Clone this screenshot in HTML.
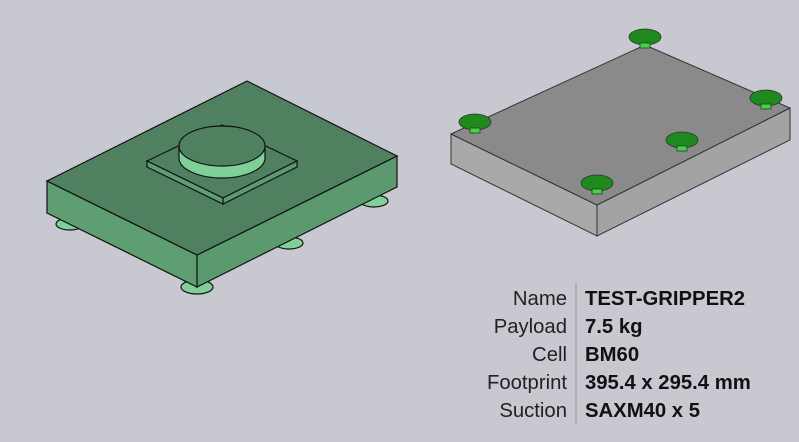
<!DOCTYPE html>
<html><head><style>
body{margin:0;width:799px;height:442px;background:#c8c8d0;overflow:hidden;font-family:"Liberation Sans",sans-serif}
</style></head><body>
<svg width="799" height="442" style="position:absolute;left:0;top:0">
<g stroke="#111" stroke-width="1.2">
<ellipse cx="70" cy="224" rx="14" ry="6" fill="#80cf98"/>
<ellipse cx="374" cy="201" rx="14" ry="6" fill="#80cf98"/>
<ellipse cx="289" cy="243" rx="14" ry="6" fill="#80cf98"/>
<ellipse cx="197" cy="287" rx="16" ry="7" fill="#80cf98"/>
<polygon points="47,181 197,255 197,287 47,213" fill="#5e9e72"/>
<polygon points="197,255 397,156 397,187 197,287" fill="#5b9a6e"/>
<polygon points="47,181 247,81 397,156 197,255" fill="#4f8160"/>
<polygon points="147,161 222,125 297,161 223,198" fill="#4f8160"/>
<polygon points="147,161 223,198 223,204 147,167" fill="#5e9e72"/>
<polygon points="223,198 297,161 297,167 223,204" fill="#5b9a6e"/>
<path d="M179,146 L179,158 A43,20 0 0 0 265,158 L265,146 Z" fill="#7fd097"/>
<ellipse cx="222" cy="146" rx="43" ry="20" fill="#4f8160"/>
</g>
<g stroke="#333" stroke-width="1">
<polygon points="451,134 597,205 597,236 451,164" fill="#a9a9a9"/>
<polygon points="597,205 790,108 790,140 597,236" fill="#a3a3a3"/>
<polygon points="451,134 645,45 790,108 597,205" fill="#8a8a8a"/>
</g>
<g stroke="#333" stroke-width="0.8">
<g fill="#1e8a1e">
<ellipse cx="475" cy="122" rx="16" ry="8"/><rect x="470" y="128" width="10" height="5" fill="#3fd63f"/>
<ellipse cx="645" cy="37" rx="16" ry="8"/><rect x="640" y="43" width="10" height="5" fill="#3fd63f"/>
<ellipse cx="766" cy="98" rx="16" ry="8"/><rect x="761" y="104" width="10" height="5" fill="#3fd63f"/>
<ellipse cx="682" cy="140" rx="16" ry="8"/><rect x="677" y="146" width="10" height="5" fill="#3fd63f"/>
<ellipse cx="597" cy="183" rx="16" ry="8"/><rect x="592" y="189" width="10" height="5" fill="#3fd63f"/>
</g></g>
<line x1="576" y1="283" x2="576" y2="425" stroke="#999" stroke-width="1"/>
<g font-size="20.3" fill="#222" text-anchor="end">
<text x="567" y="305">Name</text><text x="567" y="333">Payload</text><text x="567" y="361">Cell</text><text x="567" y="389">Footprint</text><text x="567" y="417">Suction</text>
</g>
<g font-size="20.3" fill="#111" font-weight="bold">
<text x="585" y="305">TEST-GRIPPER2</text><text x="585" y="333">7.5 kg</text><text x="585" y="361">BM60</text><text x="585" y="389">395.4 x 295.4 mm</text><text x="585" y="417">SAXM40 x 5</text>
</g>
</svg>
</body></html>
